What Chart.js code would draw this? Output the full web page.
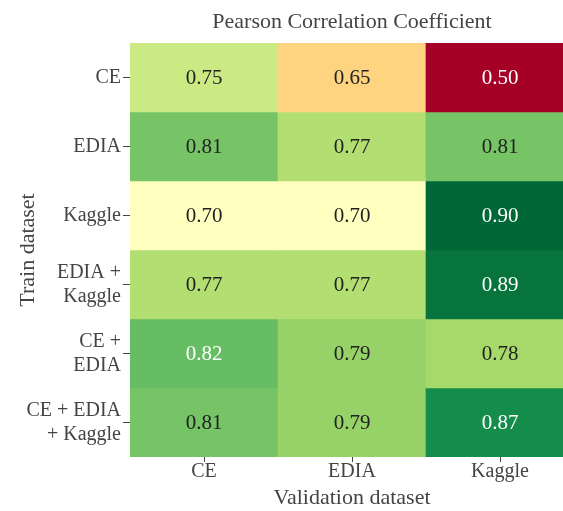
<!DOCTYPE html>
<html lang="en">
<head>
  <meta charset="UTF-8">
  <title>Pearson Correlation Coefficient</title>
  <script src="https://cdn.jsdelivr.net/npm/chart.js"></script>
  <style>
    html, body {
      margin: 0;
      padding: 0;
      background: #fff;
      overflow: hidden;
    }
    canvas { display: block; }
  </style>
</head>
<body>
  <canvas id="heatmap" width="574" height="511"></canvas>

<script>
// Datos
const validationSets = ['CE', 'EDIA', 'Kaggle'];
const trainLabels = [
  'CE',
  'EDIA',
  'Kaggle',
  ['EDIA +', 'Kaggle'],
  ['CE +', 'EDIA'],
  ['CE + EDIA', '+ Kaggle']
];
const rowCE = [0.75, 0.65, 0.50];
const rowEDIA = [0.81, 0.77, 0.81];
const rowKaggle = [0.70, 0.70, 0.90];
const rowEDIAKaggle = [0.77, 0.77, 0.89];
const rowCEEDIA = [0.82, 0.79, 0.78];
const rowAll = [0.81, 0.79, 0.87];
const rows = [rowCE, rowEDIA, rowKaggle, rowEDIAKaggle, rowCEEDIA, rowAll];

// Escala RdYlGn (0.5 - 0.9)
const rdylgn = ['#a50026', '#d73027', '#f46d43', '#fdae61', '#fee08b', '#ffffbf',
                '#d9ef8b', '#a6d96a', '#66bd63', '#1a9850', '#006837'];
const zmin = 0.5, zmax = 0.9;

function hexToRgb(h) {
  return [parseInt(h.slice(1, 3), 16), parseInt(h.slice(3, 5), 16), parseInt(h.slice(5, 7), 16)];
}
function colorFor(v) {
  let t = (v - zmin) / (zmax - zmin);
  t = Math.max(0, Math.min(1, t)) * (rdylgn.length - 1);
  const i = Math.min(Math.floor(t), rdylgn.length - 2);
  const f = t - i;
  const a = hexToRgb(rdylgn[i]), b = hexToRgb(rdylgn[i + 1]);
  const c = a.map((x, k) => Math.round(x + (b[k] - x) * f));
  return `rgb(${c[0]},${c[1]},${c[2]})`;
}
function textColorFor(v) {
  return (v >= 0.815 || v <= 0.55) ? '#ffffff' : '#222222';
}

const font = 'Liberation Serif';

// Texto de cada celda
const cellLabels = {
  id: 'cellLabels',
  afterDatasetsDraw(chart) {
    const ctx = chart.ctx;
    ctx.save();
    ctx.font = `21px "${font}"`;
    ctx.textAlign = 'center';
    ctx.textBaseline = 'middle';
    chart.data.datasets.forEach((ds, r) => {
      chart.getDatasetMeta(r).data.forEach((bar, c) => {
        const v = rows[r][c];
        ctx.fillStyle = textColorFor(v);
        ctx.fillText(v.toFixed(2), bar.x, (bar.y + bar.base) / 2 + 1);
      });
    });
    ctx.restore();
  }
};

new Chart(document.getElementById('heatmap'), {
  type: 'bar',
  data: {
    labels: validationSets,
    datasets: rows.map((vals, r) => ({
      label: 'row' + r,
      data: vals.map(() => [r, r + 1]),
      backgroundColor: vals.map(colorFor),
      borderWidth: 0,
      barPercentage: 1,
      categoryPercentage: 1,
      grouped: false
    }))
  },
  options: {
    responsive: false,
    animation: false,
    layout: { padding: 0 },
    plugins: {
      legend: { display: false },
      tooltip: { enabled: false },
      title: { display: false }
    },
    scales: {
      x: {
        type: 'category',
        offset: true,
        border: { display: false },
        grid: { display: true, offset: false, drawOnChartArea: false, drawTicks: true, tickLength: 5, color: '#444' },
        ticks: { color: '#444', font: { family: font, size: 20 }, padding: -2, maxRotation: 0 },
        title: {
          display: true,
          text: 'Validation dataset',
          color: '#444',
          font: { family: font, size: 22, lineHeight: 1.2 },
          padding: { top: 0, bottom: 0 }
        },
        afterFit(scale) { scale.height = 54; }
      },
      // eje superior usado solo para el título, centrado sobre el área del gráfico
      xTop: {
        type: 'category',
        position: 'top',
        offset: true,
        border: { display: false },
        grid: { display: false },
        ticks: { display: false },
        title: {
          display: true,
          text: 'Pearson Correlation Coefficient',
          color: '#444',
          font: { family: font, size: 22, lineHeight: 1.2 },
          padding: { top: 9, bottom: 0 }
        },
        afterFit(scale) { scale.height = 43; }
      },
      y: {
        type: 'linear',
        min: 0,
        max: 6,
        reverse: true,
        border: { display: false },
        grid: { display: true, drawOnChartArea: false, drawTicks: true, tickLength: 7, color: '#444' },
        afterBuildTicks(scale) {
          scale.ticks = trainLabels.map((_, i) => ({ value: i + 0.5 }));
        },
        ticks: {
          autoSkip: false,
          color: '#444',
          font: { family: font, size: 20, lineHeight: 1.2 },
          padding: 2,
          callback: (v, i) => trainLabels[i]
        },
        title: {
          display: true,
          text: 'Train dataset',
          color: '#444',
          font: { family: font, size: 22, lineHeight: 1.2 },
          padding: { top: 15, bottom: 0 }
        },
        afterFit(scale) { scale.width = 130; }
      }
    }
  },
  plugins: [cellLabels]
});
</script>
</body>
</html>
